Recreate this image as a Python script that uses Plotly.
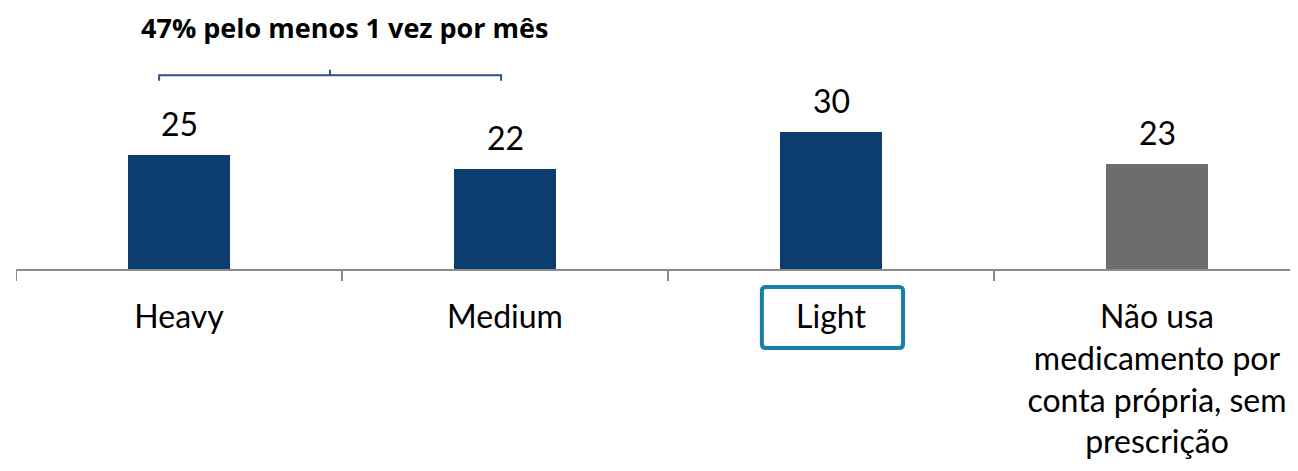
import plotly.graph_objects as go

categories = ["Heavy", "Medium", "Light", "Não usa<br>medicamento por<br>conta própria, sem<br>prescrição"]
values = [25, 22, 30, 23]
bar_colors = ["#0B3D6E", "#0B3D6E", "#0B3D6E", "#6D6D6D"]
title_text = "47% pelo menos 1 vez por mês"

FONT = "Lato"
W, H = 1298, 471
ml, mt, mb = 8, 33, 210
cat_px = 326.0
plot_h = H - mt - mb
plot_w = W - ml
xr = [-0.5, -0.5 + plot_w / cat_px]

fig = go.Figure()
fig.add_trace(go.Bar(
    x=list(range(len(categories))), y=values,
    marker=dict(color=bar_colors, line=dict(width=0)),
    width=0.313, hoverinfo="skip",
))

for i, v in enumerate(values):
    fig.add_annotation(x=i, y=v, text=str(v), showarrow=False, xref="x", yref="y",
                       yanchor="bottom", yshift=10,
                       font=dict(family=FONT, size=32, color="#000000"))

# bracket over Heavy + Medium
by = 42.5
fig.add_shape(type="path", xref="x", yref="y",
              path=f"M -0.061 {by-1.2} L -0.061 {by} L 0.988 {by} L 0.988 {by-1.2}",
              line=dict(color="#2E5181", width=2))
fig.add_shape(type="line", xref="x", yref="y", x0=0.463, x1=0.463, y0=by, y1=by + 1.2,
              line=dict(color="#2E5181", width=2))

fig.add_annotation(x=0.508, y=1 + (mt - 20) / plot_h, xref="x", yref="paper",
                   text="<b>" + title_text + "</b>",
                   showarrow=False, yanchor="middle",
                   font=dict(family="Open Sans", size=27, color="#000000"))

# highlight box around "Light" (slightly rounded corners)
bx0, bx1 = 2 - 0.212, 2 + 0.221
byb, byt = -(348 - 269) / plot_h, -(287 - 269) / plot_h
rx, ry = 4 / cat_px, 4 / plot_h
box_path = (f"M {bx0+rx} {byt} L {bx1-rx} {byt} Q {bx1} {byt} {bx1} {byt-ry} "
            f"L {bx1} {byb+ry} Q {bx1} {byb} {bx1-rx} {byb} "
            f"L {bx0+rx} {byb} Q {bx0} {byb} {bx0} {byb+ry} "
            f"L {bx0} {byt-ry} Q {bx0} {byt} {bx0+rx} {byt} Z")
fig.add_shape(type="path", xref="x", yref="paper", path=box_path,
              line=dict(color="#1A7FA6", width=4), fillcolor="rgba(0,0,0,0)")

fig.update_layout(
    width=W, height=H,
    margin=dict(l=ml, r=0, t=mt, b=mb),
    paper_bgcolor="white", plot_bgcolor="white",
    showlegend=False, bargap=0,
    font=dict(family=FONT),
    xaxis=dict(
        range=xr, tickmode="array", tickvals=list(range(len(categories))), ticktext=categories,
        showline=True, linecolor="#8C8C8C", linewidth=2,
        ticks="", showgrid=False, zeroline=False,
        tickfont=dict(family=FONT, size=32, color="#000000"),
        ticklabelstandoff=19,
    ),
    yaxis=dict(range=[0, 50], visible=False, showgrid=False, zeroline=False),
)

# boundary ticks
for b in [-0.5, 0.5, 1.5, 2.5]:
    fig.add_shape(type="line", xref="x", yref="paper", x0=b, x1=b, y0=0, y1=-12 / plot_h,
                  line=dict(color="#8C8C8C", width=2))

fig.write_html("out.html")
